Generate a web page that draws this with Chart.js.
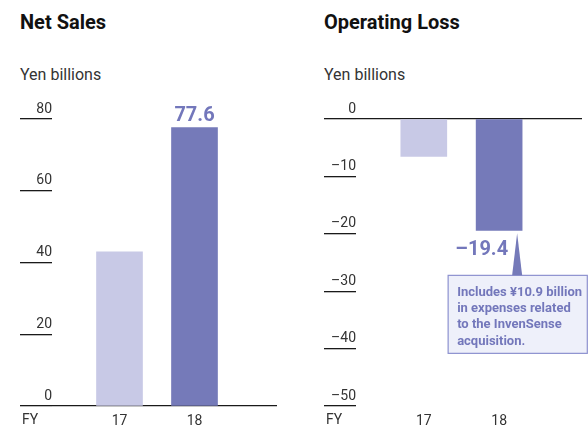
<!DOCTYPE html>
<html>
<head>
<meta charset="utf-8">
<script src="https://cdn.jsdelivr.net/npm/chart.js@4.4.1/dist/chart.umd.min.js"></script>
<style>
  html, body { margin: 0; padding: 0; background: #fff; }
  body { width: 588px; height: 434px; position: relative; overflow: hidden;
         font-family: Roboto, "Liberation Sans", sans-serif; }
  .txt { position: absolute; white-space: nowrap; color: #222; }
  .head { font-size: 20px; line-height: 20px; font-weight: bold; color: #111; }
  .unit { font-size: 16px; line-height: 16px; color: #333; }
  .fy { font-size: 14px; line-height: 14px; color: #333; }
  .panel { position: absolute; top: 0; width: 294px; height: 434px; }
</style>
</head>
<body>
<div class="txt head" style="left:20px; top:11.5px;">Net Sales</div>
<div class="txt unit" style="left:20px; top:66.5px;">Yen billions</div>
<div class="txt head" style="left:324px; top:11.5px;">Operating Loss</div>
<div class="txt unit" style="left:324px; top:66.5px;">Yen billions</div>

<div class="panel" style="left:0;"><canvas id="chartNetSales" width="294" height="434"></canvas></div>
<div class="panel" style="left:294px;"><canvas id="chartOperatingLoss" width="294" height="434"></canvas></div>

<div class="txt fy" style="left:22px; top:411.5px;">FY</div>
<div class="txt fy" style="left:326px; top:411.5px;">FY</div>

<script>
  // fiscal years and results, yen billions
  var fiscalYears = [17, 18];
  var netSales = [43.0, 77.6];
  var operatingLoss = [-6.5, -19.4];
  var salesTicks = [0, 20, 40, 60, 80];
  var lossTicks = [0, -10, -20, -30, -40, -50];
  var lossNote = [
    'Includes \u00a510.9 billion',
    'in expenses related',
    'to the InvenSense',
    'acquisition.'
  ];

  var barColors = ['#c8c9e6', '#757ab9'];
  var accent = '#7377bb';
  var fontFamily = 'Roboto, "Liberation Sans", sans-serif';

  formatValue = (v) => (v < 0 ? '\u2013' + Math.abs(v) : String(v));

  // label on the latest year's bar (and the note box on the loss chart)
  var valueLabel = {
    id: 'valueLabel',
    afterDatasetsDraw: function (chart) {
      var ctx = chart.ctx;
      var meta = chart.getDatasetMeta(0);
      var i = meta.data.length - 1;
      var bar = meta.data[i];
      var value = chart.data.datasets[0].data[i].y;

      ctx.save();
      ctx.fillStyle = accent;
      ctx.font = 'bold 20px ' + fontFamily;
      ctx.textBaseline = 'alphabetic';

      if (value >= 0) {
        ctx.textAlign = 'center';
        ctx.fillText(formatValue(value), bar.x, bar.y - 6.5);
      } else {
        ctx.textAlign = 'right';
        ctx.fillText(formatValue(value), bar.x + 9, bar.y + 25);

        // note box with a pointer up to the bar
        var bx = bar.x - 51;
        var by = bar.y + 45;
        var bw = chart.width - 0.7 - bx;
        var bh = 78;

        ctx.fillStyle = '#eef0fa';
        ctx.fillRect(bx, by, bw, bh);
        ctx.strokeStyle = '#8d91cf';
        ctx.lineWidth = 1.2;
        ctx.strokeRect(bx, by, bw, bh);

        ctx.fillStyle = '#757ab9';
        ctx.beginPath();
        ctx.moveTo(bar.x + 18, bar.y + 3);
        ctx.lineTo(bar.x + 23, by);
        ctx.lineTo(bar.x + 13, by);
        ctx.closePath();
        ctx.fill();

        ctx.fillStyle = accent;
        ctx.font = 'bold 13px ' + fontFamily;
        ctx.textAlign = 'left';
        lossNote.forEach(function (line, k) {
          ctx.fillText(line, bx + 9, by + 20.5 + k * 16.3);
        });
      }
      ctx.restore();
    }
  };

  makeChart = (id, values, yTicks, padLeft, padRight) => {
    var points = fiscalYears.map((fy, i) => ({ x: fy, y: values[i] }));
    var yMin = Math.min.apply(null, yTicks);
    var yMax = Math.max.apply(null, yTicks);

    return new Chart(document.getElementById(id), {
      type: 'bar',
      plugins: [valueLabel],
      data: {
        datasets: [
          {
            data: points,
            backgroundColor: barColors,
            borderWidth: 0,
            barThickness: 46,
          },
        ],
      },
      options: {
        responsive: false,
        animation: false,
        layout: {
          padding: { left: padLeft, right: padRight, top: 119, bottom: 0 },
        },
        plugins: {
          legend: { display: false },
          tooltip: { enabled: false },
        },
        scales: {
          x: {
            type: 'linear',
            offset: false,
            min: 16.1,
            max: 19.1,
            grid: { display: false, drawTicks: false, tickLength: 0 },
            border: { display: false },
            afterBuildTicks: (scale) => {
              scale.ticks = fiscalYears.map((v) => ({ value: v }));
            },
            afterFit: (scale) => {
              scale.height = 28;
            },
            ticks: {
              autoSkip: false,
              maxRotation: 0,
              padding: 7,
              color: '#333',
              font: { family: fontFamily, size: 14 },
              callback: (v) => String(v),
            },
          },
          y: {
            min: yMin,
            max: yMax,
            afterBuildTicks: (scale) => {
              scale.ticks = yTicks.map((v) => ({ value: v }));
            },
            afterFit: (scale) => {
              scale.width = 32;
            },
            border: { display: false },
            grid: {
              tickLength: 32,
              lineWidth: 1.3,
              tickColor: '#1a1a1a',
              color: (c) =>
                c.tick && c.tick.value === 0 ? '#1a1a1a' : 'rgba(0,0,0,0)',
            },
            ticks: {
              padding: -32,
              labelOffset: -10,
              color: '#333',
              font: { family: fontFamily, size: 14 },
              callback: (v) => formatValue(v),
            },
          },
        },
      },
    });
  };

  var chartNetSales = makeChart('chartNetSales', netSales, salesTicks, 20, 17);
  var chartOperatingLoss = makeChart('chartOperatingLoss', operatingLoss, lossTicks, 30, 6);
</script>
</body>
</html>
